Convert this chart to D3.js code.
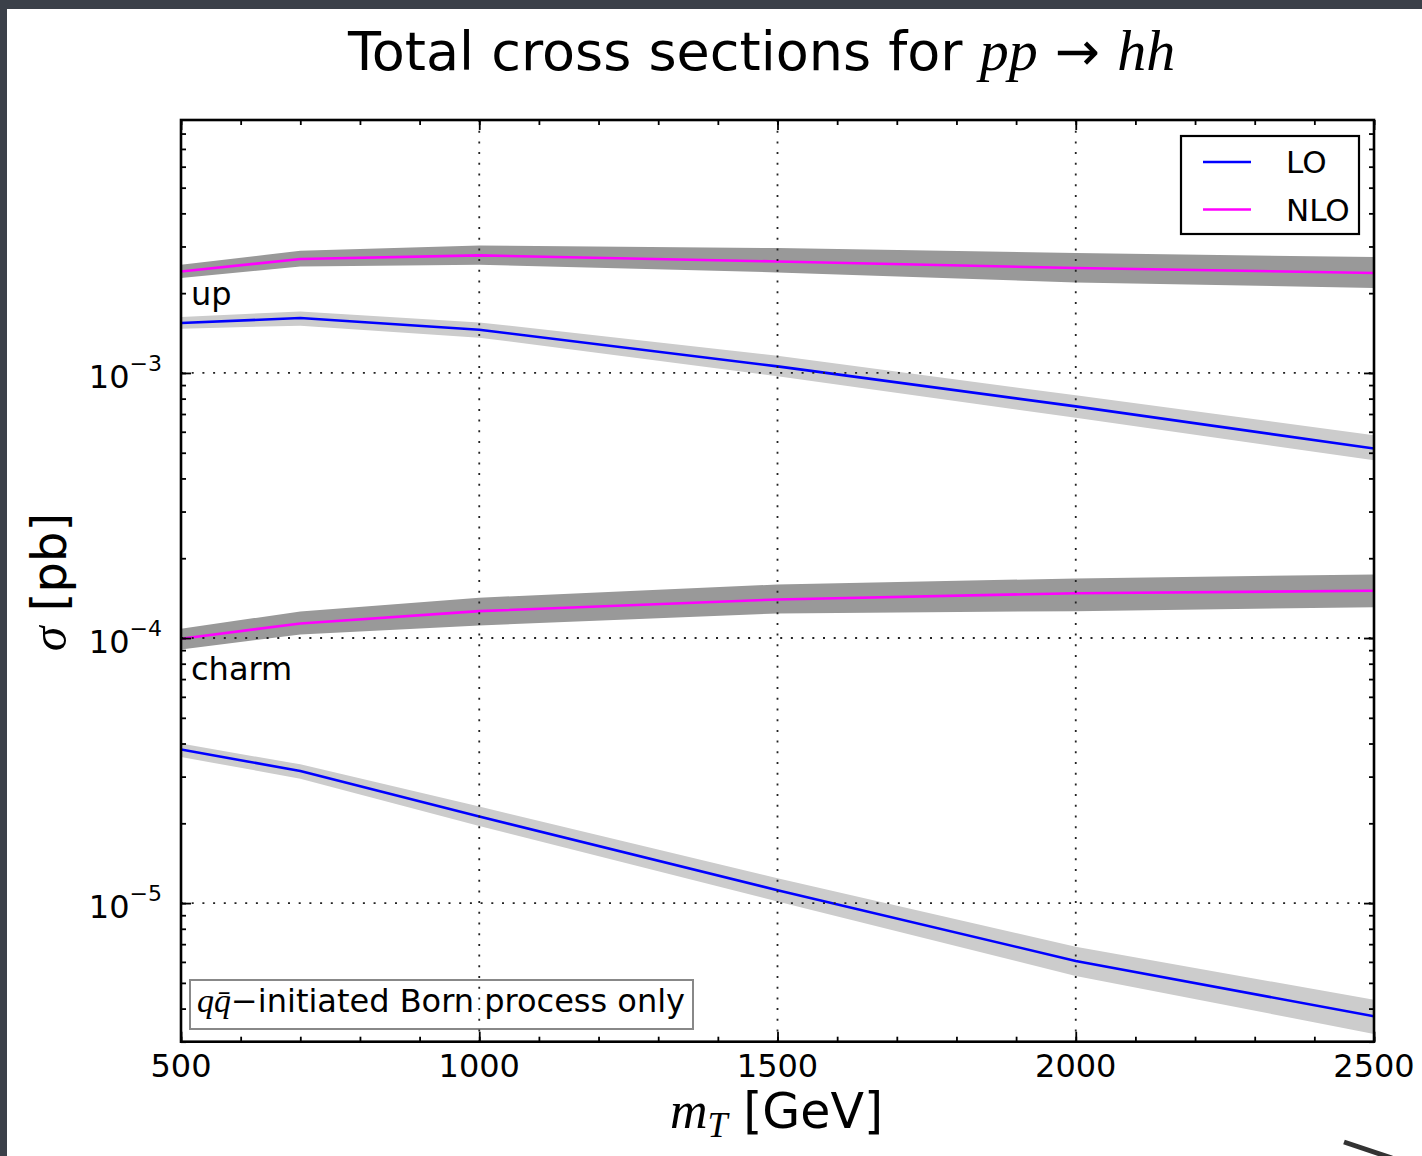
<!DOCTYPE html>
<html><head><meta charset="utf-8">
<script src="https://cdn.jsdelivr.net/npm/d3@7"></script>
<style>
html,body{margin:0;padding:0;background:#3b4049;}
svg{display:block}
text{font-family:"DejaVu Sans",sans-serif;fill:#000}
.math{font-family:"Liberation Serif","Times New Roman",serif;font-style:italic}
</style>
</head><body>
<svg id="chart" width="1422" height="1156"></svg>
<script>
// ---- data ----
const mT = [500, 700, 1000, 1500, 2000, 2500];

const upNLO      = [2.415e-3, 2.69e-3, 2.776e-3, 2.634e-3, 2.488e-3, 2.382e-3];
const upNLOHigh  = [2.559e-3, 2.891e-3, 3.027e-3, 2.959e-3, 2.834e-3, 2.737e-3];
const upNLOLow   = [2.281e-3, 2.522e-3, 2.559e-3, 2.394e-3, 2.195e-3, 2.091e-3];

const upLO       = [1.543e-3, 1.612e-3, 1.456e-3, 1.059e-3, 7.48e-4, 5.185e-4];
const upLOHigh   = [1.626e-3, 1.707e-3, 1.551e-3, 1.162e-3, 8.23e-4, 5.82e-4];
const upLOLow    = [1.469e-3, 1.507e-3, 1.359e-3, 9.71e-4, 6.77e-4, 4.68e-4];

const charmNLO     = [9.94e-5, 1.135e-4, 1.263e-4, 1.398e-4, 1.476e-4, 1.508e-4];
const charmNLOHigh = [1.084e-4, 1.26e-4, 1.419e-4, 1.592e-4, 1.678e-4, 1.737e-4];
const charmNLOLow  = [9.06e-5, 1.032e-4, 1.116e-4, 1.238e-4, 1.263e-4, 1.307e-4];

const charmLO     = [3.80e-5, 3.149e-5, 2.12e-5, 1.118e-5, 6.05e-6, 3.74e-6];
const charmLOHigh = [3.996e-5, 3.338e-5, 2.312e-5, 1.241e-5, 6.84e-6, 4.32e-6];
const charmLOLow  = [3.556e-5, 2.948e-5, 1.954e-5, 1.014e-5, 5.31e-6, 3.21e-6];

const xMajorTicks = [500, 1000, 1500, 2000, 2500];
const xMinorTicks = d3.range(500, 2501, 100);
const yMajorExps = [-3, -4, -5];
const legendLabels = ["LO", "NLO"];
const processLabels = ["up", "charm"];

// ---- layout ----
const svg = d3.select("#chart");
const L = 181, R = 1374, T = 120, B = 1041.7;
const x = d3.scaleLinear().domain([500, 2500]).range([L, R]);
const y = d3.scaleLog().domain([3e-6, 9e-3]).range([B, T]);

const yMinorTicks = [];
for (let e = -6; e <= -2; e++) for (let m = 1; m <= 9; m++) {
  const v = m * Math.pow(10, e);
  if (v >= 3e-6 && v <= 9e-3) yMinorTicks.push(v);
}

// slide background
svg.append("rect").attr("x", 7).attr("y", 9).attr("width", 1422 - 7).attr("height", 1156 - 9).attr("fill", "#fff");
svg.append("line").attr("x1", 1344).attr("y1", 1142).attr("x2", 1392).attr("y2", 1158)
  .attr("stroke", "#333").attr("stroke-width", 5);

const plot = svg.append("g");
plot.append("defs").append("clipPath").attr("id", "clip")
  .append("rect").attr("x", L).attr("y", T).attr("width", R - L).attr("height", B - T);
const inner = plot.append("g").attr("clip-path", "url(#clip)");

function band(lo, hi, color) {
  const area = d3.area().x((d, i) => x(mT[i])).y0((d, i) => y(lo[i])).y1((d, i) => y(hi[i]));
  inner.append("path").attr("d", area(mT)).attr("fill", color).attr("stroke", "none");
}
function line(vals, color) {
  const ln = d3.line().x((d, i) => x(mT[i])).y((d) => y(d));
  inner.append("path").attr("d", ln(vals)).attr("fill", "none").attr("stroke", color)
    .attr("stroke-width", 2.6).attr("stroke-linejoin", "round");
}
band(upNLOLow, upNLOHigh, "#999999");
band(upLOLow, upLOHigh, "#cccccc");
band(charmNLOLow, charmNLOHigh, "#999999");
band(charmLOLow, charmLOHigh, "#cccccc");
line(upNLO, "#ff00ff");
line(upLO, "#0000ff");
line(charmNLO, "#ff00ff");
line(charmLO, "#0000ff");

// annotation box
const ab = plot.append("g");
ab.append("rect").attr("x", 190).attr("y", 980).attr("width", 503).attr("height", 49)
  .attr("fill", "#fff").attr("stroke", "#888").attr("stroke-width", 2);
const at = ab.append("text").attr("x", 197).attr("y", 1012).attr("font-size", 32);
at.append("tspan").attr("class", "math").attr("font-size", 34).text("q");
at.append("tspan").attr("class", "math").attr("font-size", 34).text("q\u0304");
at.append("tspan").text("\u2212initiated Born process only");

// grid
const grid = plot.append("g").attr("stroke", "#222").attr("stroke-width", 1.8).attr("stroke-dasharray", "2 8.7");
grid.selectAll(".gx").data(xMajorTicks.slice(1, -1)).join("line")
  .attr("x1", d => x(d)).attr("x2", d => x(d)).attr("y1", T).attr("y2", B);
grid.selectAll(".gy").data(yMajorExps).join("line")
  .attr("y1", d => y(Math.pow(10, d))).attr("y2", d => y(Math.pow(10, d))).attr("x1", L).attr("x2", R);

// ticks (inward, all four sides)
function tickAxis(axisFn, scale, vals, size, tx, ty) {
  const g = plot.append("g").attr("transform", `translate(${tx},${ty})`)
    .call(axisFn(scale).tickValues(vals).tickSize(-size).tickFormat(""));
  g.select(".domain").remove();
  g.selectAll(".tick line").attr("stroke", "#000").attr("stroke-width", 1.8);
  return g;
}
tickAxis(d3.axisBottom, x, xMinorTicks, 5, 0, B);
tickAxis(d3.axisBottom, x, xMajorTicks, 10, 0, B);
tickAxis(d3.axisTop, x, xMinorTicks, 5, 0, T);
tickAxis(d3.axisTop, x, xMajorTicks, 10, 0, T);
tickAxis(d3.axisLeft, y, yMinorTicks, 5, L, 0);
tickAxis(d3.axisLeft, y, yMajorExps.map(e => Math.pow(10, e)), 10, L, 0);
tickAxis(d3.axisRight, y, yMinorTicks, 5, R, 0);
tickAxis(d3.axisRight, y, yMajorExps.map(e => Math.pow(10, e)), 10, R, 0);

// spines
plot.append("rect").attr("x", L).attr("y", T).attr("width", R - L).attr("height", B - T)
  .attr("fill", "none").attr("stroke", "#000").attr("stroke-width", 2.6);

// x tick labels
plot.selectAll(".xl").data(xMajorTicks).join("text")
  .attr("x", d => x(d)).attr("y", B + 35).attr("text-anchor", "middle").attr("font-size", 32)
  .text(d => d);

// y tick labels
const yl = plot.selectAll(".yl").data(yMajorExps).join("text")
  .attr("x", 162).attr("y", d => y(Math.pow(10, d)) + 15).attr("text-anchor", "end").attr("font-size", 32);
yl.append("tspan").text("10");
yl.append("tspan").attr("dy", -17).attr("font-size", 22).text(d => "\u2212" + Math.abs(d));

// process labels
plot.selectAll(".pl").data(processLabels).join("text")
  .attr("x", 191).attr("y", (d, i) => i === 0 ? 305 : 680).attr("font-size", 32).text(d => d);

// legend
const lg = plot.append("g");
lg.append("rect").attr("x", 1181).attr("y", 136).attr("width", 178).attr("height", 98)
  .attr("fill", "#fff").attr("stroke", "#000").attr("stroke-width", 2.2);
const legColors = ["#0000ff", "#ff00ff"];
legendLabels.forEach((lab, i) => {
  const ly = 162 + i * 47.5;
  lg.append("line").attr("x1", 1203).attr("x2", 1251).attr("y1", ly).attr("y2", ly)
    .attr("stroke", legColors[i]).attr("stroke-width", 2.6);
  lg.append("text").attr("x", 1286).attr("y", ly + 11).attr("font-size", 31).text(lab);
});

// title
const tt = svg.append("text").attr("x", 348).attr("y", 70).attr("font-size", 54);
tt.append("tspan").text("Total cross sections for ");
tt.append("tspan").attr("class", "math").attr("font-size", 58).text("pp");
tt.append("tspan").attr("font-family", "DejaVu Sans").attr("font-size", 54).text(" \u2192 ");
tt.append("tspan").attr("class", "math").attr("font-size", 58).text("hh");

// x label
const xl = svg.append("text").attr("x", 670).attr("y", 1128).attr("font-size", 49);
xl.append("tspan").attr("class", "math").attr("font-size", 52).text("m");
xl.append("tspan").attr("class", "math").attr("font-size", 36).attr("dy", 9).text("T");
xl.append("tspan").attr("dy", -9).text(" [GeV]");

// y label
const ylab = svg.append("text").attr("transform", "translate(66,582) rotate(-90)")
  .attr("text-anchor", "middle").attr("font-size", 48);
ylab.append("tspan").attr("class", "math").attr("font-size", 50).text("\u03c3");
ylab.append("tspan").text(" [pb]");
</script>
</body></html>
